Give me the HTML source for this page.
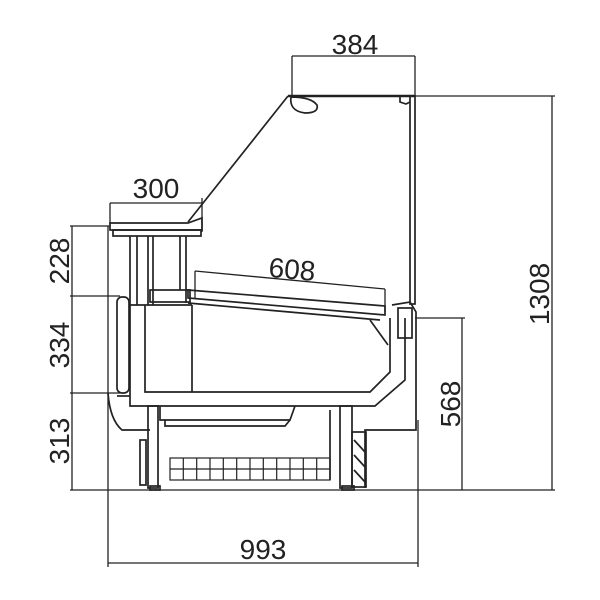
<!DOCTYPE html>
<html><head><meta charset="utf-8"><style>
html,body{margin:0;padding:0;background:#fff;width:600px;height:600px;overflow:hidden}
svg{display:block}
text{font-family:"Liberation Sans",sans-serif;font-size:28px;fill:#222}
</style></head><body>
<svg width="600" height="600" viewBox="0 0 600 600" xmlns="http://www.w3.org/2000/svg">
<g stroke="#222" stroke-width="1.3" fill="none">
<line x1="292" y1="56" x2="415" y2="56"/>
<line x1="292" y1="56" x2="292" y2="96"/>
<line x1="415" y1="56" x2="415" y2="96"/>
<line x1="415" y1="96" x2="555" y2="96"/>
<line x1="552" y1="96" x2="552" y2="490"/>
<line x1="415" y1="318" x2="465" y2="318"/>
<line x1="462" y1="318" x2="462" y2="490"/>
<line x1="70" y1="490" x2="555" y2="490"/>
<line x1="72" y1="226" x2="72" y2="490"/>
<line x1="70" y1="226" x2="110" y2="226"/>
<line x1="70" y1="296" x2="120" y2="296"/>
<line x1="70" y1="393" x2="120" y2="393"/>
<line x1="108" y1="226" x2="108" y2="567"/>
<line x1="418" y1="420" x2="418" y2="567"/>
<line x1="108" y1="563" x2="418" y2="563"/>
<line x1="110" y1="203" x2="202" y2="203"/>
<line x1="110" y1="203" x2="110" y2="224"/>
<line x1="202" y1="198" x2="202" y2="232"/>
<line x1="195" y1="271" x2="385" y2="289"/>
<line x1="195" y1="271" x2="195" y2="298"/>
<line x1="385" y1="289" x2="385" y2="312"/>
</g>
<g stroke="#222" stroke-width="1.7" fill="none">
<line x1="288" y1="96" x2="415" y2="96" stroke-width="2.5"/>
<line x1="288" y1="96" x2="188" y2="222"/>
<path d="M291 97 q-2 14 14 16 q14 0 12 -8 q-6 -8 -26 -8z"/>
<rect x="410" y="96" width="5" height="208"/>
<path d="M400 96 l0 6 6 2 4 -2"/>
<path d="M110 223 L188 223 L202 218 L202 230 L110 230 Z"/>
<rect x="113" y="230" width="88" height="6"/>
<line x1="130" y1="236" x2="130" y2="305"/>
<line x1="137" y1="236" x2="137" y2="305"/>
<line x1="148" y1="236" x2="148" y2="305"/>
<line x1="153" y1="236" x2="153" y2="305"/>
<line x1="180" y1="236" x2="180" y2="290"/>
<line x1="186" y1="236" x2="186" y2="303"/>
<rect x="150" y="290" width="40" height="12"/>
<path d="M188 290 L385 306 L385 315 L188 298 Z"/>
<line x1="188" y1="303" x2="380" y2="320"/>
<line x1="130" y1="305" x2="192" y2="305"/>
<path d="M130 305 L130 406 L375 406 L405 380 L405 318"/>
<path d="M145 305 L145 392 L370 392 L390 372 L390 318"/>
<line x1="192" y1="305" x2="192" y2="392"/>
<path d="M370 320 L388 345"/>
<path d="M392 305 L410 302 L416 312 L416 430 L365 430 L365 488"/>
<rect x="398" y="308" width="14" height="30"/>
<rect x="117" y="297" width="12" height="96" rx="5"/>
<path d="M108 393 Q110 420 122 430 L150 430"/>
<line x1="117" y1="396" x2="130" y2="396"/>
<rect x="148" y="406" width="10" height="82"/>
<rect x="340" y="406" width="12" height="82"/>
<rect x="140" y="440" width="6" height="45"/>
<path d="M160 406 L160 420 L290 420 L295 406"/>
<path d="M165 420 L165 426 L285 426 L290 420"/>
<line x1="330" y1="410" x2="330" y2="480"/>
<rect x="150" y="486" width="10" height="4"/>
<rect x="342" y="486" width="12" height="4"/>
<rect x="352" y="432" width="14" height="55"/>
<path d="M354 440 L365 452 M354 455 L365 467 M354 470 L365 482"/>
</g>
<g stroke="#222" stroke-width="1.2" fill="none">
<rect x="170" y="458" width="160" height="22"/>
<line x1="170" y1="469" x2="330" y2="469"/>
<line x1="183.3" y1="458" x2="183.3" y2="480"/><line x1="196.7" y1="458" x2="196.7" y2="480"/>
<line x1="210" y1="458" x2="210" y2="480"/><line x1="223.3" y1="458" x2="223.3" y2="480"/>
<line x1="236.7" y1="458" x2="236.7" y2="480"/><line x1="250" y1="458" x2="250" y2="480"/>
<line x1="263.3" y1="458" x2="263.3" y2="480"/><line x1="276.7" y1="458" x2="276.7" y2="480"/>
<line x1="290" y1="458" x2="290" y2="480"/><line x1="303.3" y1="458" x2="303.3" y2="480"/>
<line x1="316.7" y1="458" x2="316.7" y2="480"/>
</g>
<text x="355" y="54" text-anchor="middle">384</text>
<text x="156" y="198" text-anchor="middle">300</text>
<text x="292" y="279" text-anchor="middle" transform="rotate(5 292 270)">608</text>
<text x="263" y="559" text-anchor="middle">993</text>
<text transform="translate(549 294) rotate(-90)" text-anchor="middle">1308</text>
<text transform="translate(460 404) rotate(-90)" text-anchor="middle">568</text>
<text transform="translate(69 261) rotate(-90)" text-anchor="middle">228</text>
<text transform="translate(69 345) rotate(-90)" text-anchor="middle">334</text>
<text transform="translate(69 441) rotate(-90)" text-anchor="middle">313</text>
</svg>
</body></html>
